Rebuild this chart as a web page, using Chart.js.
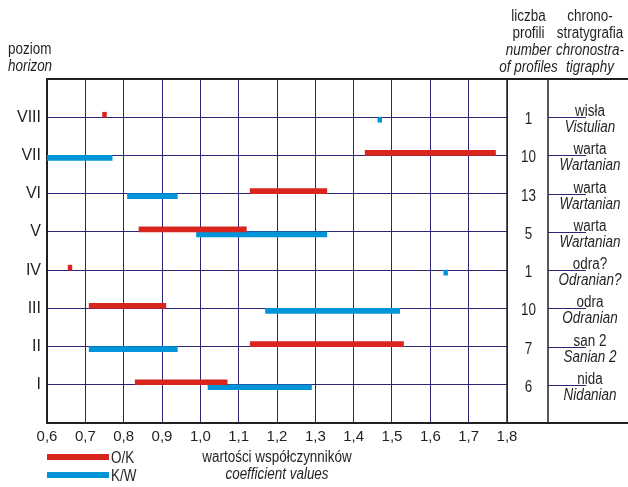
<!DOCTYPE html>
<html>
<head>
<meta charset="utf-8">
<script src="https://cdn.jsdelivr.net/npm/chart.js@4/dist/chart.umd.min.js"></script>
<style>
  html, body { margin: 0; padding: 0; background: #fff; }
</style>
</head>
<body>
<canvas id="chart" width="628" height="487"></canvas>
<script>
// Horizons, from the bottom (I) to the top (VIII)
const horizons = ['I', 'II', 'III', 'IV', 'V', 'VI', 'VII', 'VIII'];
const levels = [1, 2, 3, 4, 5, 6, 7, 8];

// O/K coefficient ranges for each horizon
const okFrom = [0.83, 1.13, 0.71, 0.655, 0.84, 1.13, 1.43, 0.745];
const okTo   = [1.07, 1.53, 0.91, 0.665, 1.12, 1.33, 1.77, 0.755];

// K/W coefficient ranges for each horizon
const kwFrom = [1.02, 0.71, 1.17, 1.635, 0.99, 0.81, 0.60, 1.463];
const kwTo   = [1.29, 0.94, 1.52, 1.645, 1.33, 0.94, 0.77, 1.473];

// Right hand table
const profiles = ['6', '7', '10', '1', '5', '13', '10', '1'];
const stratPl = ['nida', 'san 2', 'odra', 'odra?', 'warta', 'warta', 'warta', 'wisła'];
const stratEn = ['Nidanian', 'Sanian 2', 'Odranian', 'Odranian?', 'Wartanian', 'Wartanian', 'Wartanian', 'Vistulian'];

const FONT = '"Liberation Sans", Arial, sans-serif';
const SQUEEZE = 0.84; // the original uses a condensed face
const navy = '#2e2577';
const ink = '#231f20';
const red = '#d8261f';
const blue = '#0095d9';

// Draws the frame, the table on the right, the headers and the legend
const panelPlugin = {
    id: 'panel',
    afterDraw(chart) {
        const ctx = chart.ctx;
        const a = chart.chartArea;
        const yScale = chart.scales.y;
        const W = chart.width;
        const colX = a.right + 41;
        const numX = (a.right + colX) / 2 + 1;
        const stratX = colX + 42;

        function line(x1, y1, x2, y2) {
            ctx.beginPath();
            ctx.moveTo(x1, y1);
            ctx.lineTo(x2, y2);
            ctx.stroke();
        }

        function text(str, x, y, italic, align) {
            ctx.save();
            ctx.font = (italic ? 'italic ' : '') + '16px ' + FONT;
            ctx.textAlign = align || 'center';
            ctx.textBaseline = 'alphabetic';
            ctx.fillStyle = ink;
            ctx.translate(x, y);
            ctx.scale(SQUEEZE, 1);
            ctx.fillText(str, 0, 0);
            ctx.restore();
        }

        ctx.save();
        ctx.strokeStyle = ink;
        ctx.lineWidth = 2;
        line(a.left, a.top, W, a.top);
        line(a.right, a.bottom, W, a.bottom);
        ctx.lineWidth = 1.5;
        line(a.right, a.top, a.right, a.bottom);
        line(colX, a.top, colX, a.bottom);

        for (let i = 0; i < levels.length; i++) {
            const py = Math.round(yScale.getPixelForValue(levels[i])) + 0.5;
            ctx.strokeStyle = navy;
            ctx.lineWidth = 1;
            line(colX, py, colX + 38, py);

            text(profiles[i], numX, py + 6, false);
            text(stratPl[i], stratX, py - 2, false);
            text(stratEn[i], stratX, py + 14, true);
        }

        // column headers
        text('liczba', numX, 20.5, false);
        text('profili', numX, 37.5, false);
        text('number', numX, 54.5, true);
        text('of profiles', numX, 71.5, true);
        text('chrono-', stratX, 20.5, false);
        text('stratygrafia', stratX, 37.5, false);
        text('chronostra-', stratX, 54.5, true);
        text('tigraphy', stratX, 71.5, true);

        // left header
        text('poziom', 8, 54, false, 'left');
        text('horizon', 8, 71, true, 'left');

        // axis title
        const midX = (a.left + a.right) / 2;
        text('wartości współczynników', midX, a.bottom + 39, false);
        text('coefficient values', midX, a.bottom + 56, true);

        // legend
        chart.data.datasets.forEach(function (ds, k) {
            const ly = a.bottom + 31 + k * 18;
            ctx.fillStyle = ds.backgroundColor;
            ctx.fillRect(a.left, ly, 62, 6);
            text(ds.label, a.left + 64, ly + 9, false, 'left');
        });
        ctx.restore();
    }
};

new Chart(document.getElementById('chart'), {
    type: 'bar',
    data: {
        datasets: [
            {
                label: 'O/K',
                data: levels.map((lv, i) => ({ y: lv, x: [okFrom[i], okTo[i]] })),
                backgroundColor: red,
                barThickness: 5,
                borderWidth: 0
            },
            {
                label: 'K/W',
                data: levels.map((lv, i) => ({ y: lv, x: [kwFrom[i], kwTo[i]] })),
                backgroundColor: blue,
                barThickness: 5,
                borderWidth: 0
            }
        ]
    },
    options: {
        indexAxis: 'y',
        responsive: false,
        animation: false,
        devicePixelRatio: 1,
        layout: { padding: { top: 79, right: 121, left: 0, bottom: 0 } },
        plugins: {
            legend: { display: false },
            tooltip: { enabled: false }
        },
        scales: {
            x: {
                type: 'linear',
                position: 'bottom',
                min: 0.6,
                max: 1.8,
                ticks: {
                    stepSize: 0.1,
                    autoSkip: false,
                    maxRotation: 0,
                    padding: 5,
                    color: ink,
                    font: { family: FONT, size: 15 },
                    callback: v => v.toFixed(1).replace('.', ',')
                },
                grid: { color: navy, lineWidth: 1, drawTicks: false },
                border: { color: ink, width: 2 },
                afterFit: s => { s.height = 64; }
            },
            y: {
                type: 'linear',
                min: 0,
                max: 9,
                offset: false,
                ticks: {
                    stepSize: 1,
                    padding: 6,
                    color: ink,
                    font: { family: FONT, size: 16 },
                    callback: v => horizons[v - 1] || ''
                },
                grid: {
                    offset: false,
                    drawTicks: false,
                    lineWidth: 1,
                    color: c => (c.tick && c.tick.value >= 1 && c.tick.value <= 8) ? navy : 'rgba(0,0,0,0)'
                },
                border: { color: ink, width: 2 },
                afterFit: s => { s.width = 47; }
            }
        }
    },
    plugins: [panelPlugin]
});
</script>
</body>
</html>
